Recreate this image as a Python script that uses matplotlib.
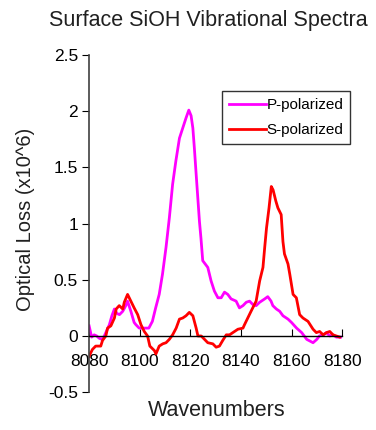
import matplotlib
matplotlib.use("Agg")
import matplotlib.pyplot as plt

plt.rcParams['font.family'] = ['Liberation Sans', 'DejaVu Sans']

title = "Surface SiOH Vibrational Spectra"
xlabel = "Wavenumbers"
ylabel = "Optical Loss (x10^6)"
xticks = [8080, 8100, 8120, 8140, 8160, 8180]
yticks = [-0.5, 0, 0.5, 1, 1.5, 2, 2.5]
ytick_labels = ["-0.5", "0", "0.5", "1", "1.5", "2", "2.5"]

p_x = [8080, 8081, 8082, 8083, 8084, 8085, 8086, 8087, 8088, 8089, 8090, 8091,
       8092, 8093.3, 8094.5, 8095.2, 8096.5, 8097.8, 8098.5, 8099.8, 8101, 8103.6,
       8105, 8106.3, 8107.7, 8109, 8110.4, 8111.7, 8113, 8114.3, 8115.7, 8117,
       8118.3, 8119.4, 8120.3, 8121, 8121.6, 8122.3, 8123.6, 8124.2, 8124.9, 8126.9,
       8128.2, 8129.5, 8130.9, 8132.2, 8133.5, 8134.8, 8136.1, 8138.1, 8139.4,
       8140.8, 8142.1, 8143.4, 8144.7, 8146, 8147.4, 8149.4, 8150.6, 8151.9,
       8152.6, 8154, 8155.3, 8156.6, 8158.6, 8160, 8162, 8164, 8166, 8168.5,
       8170, 8171, 8172.5, 8173.8, 8175.1, 8176.4, 8177.7, 8179.7]
p_y = [0.09, -0.01, 0.01, 0.0, -0.02, -0.03, 0.0, 0.05, 0.10, 0.18, 0.24, 0.20,
       0.19, 0.22, 0.27, 0.31, 0.22, 0.12, 0.10, 0.07, 0.07, 0.07,
       0.13, 0.25, 0.37, 0.55, 0.79, 1.05, 1.35, 1.56, 1.76, 1.85,
       1.94, 2.01, 1.96, 1.85, 1.67, 1.44, 1.02, 0.87, 0.67, 0.61,
       0.49, 0.40, 0.34, 0.34, 0.39, 0.37, 0.33, 0.31, 0.25,
       0.27, 0.30, 0.31, 0.28, 0.27, 0.30, 0.33, 0.35, 0.31,
       0.27, 0.24, 0.22, 0.18, 0.15, 0.12, 0.07, 0.03, -0.03, -0.06,
       -0.03, 0.0, 0.01, 0.03, 0.0, 0.01, -0.01, -0.01]

s_x = [8080, 8081.3, 8082.6, 8084.6, 8085.3, 8086.6, 8087.3, 8088.6, 8090, 8090.7,
       8091.9, 8093.3, 8093.9, 8095.2, 8096.5, 8097.8, 8099.2, 8100.5, 8101.8,
       8103.1, 8104, 8105.8, 8106.4, 8107.7, 8109.1, 8110.4, 8111.7, 8113, 8114.4,
       8115.7, 8117, 8118.3, 8119.6, 8121, 8122.3, 8123, 8124.3, 8126.9, 8128.9,
       8130.2, 8131.5, 8132.8, 8134.2, 8135.5, 8136.8, 8138.8, 8140.8, 8141.4,
       8142.7, 8144, 8146, 8147.4, 8148.7, 8149.4, 8150.1, 8151.1, 8152, 8152.7,
       8153.8, 8154.6, 8155.9, 8156.6, 8157.2, 8158.6, 8159.3, 8160.6, 8161.9,
       8163.2, 8164.5, 8166.5, 8168.5, 8169.8, 8171.1, 8172.5, 8173.8, 8175.1,
       8176.4, 8177.7, 8179]
s_y = [-0.18, -0.12, -0.09, -0.09, -0.04, 0.0, 0.07, 0.09, 0.16, 0.24,
       0.27, 0.24, 0.30, 0.37, 0.31, 0.25, 0.19, 0.10, 0.04,
       0.0, -0.09, -0.13, -0.16, -0.09, -0.07, -0.06, -0.03, 0.01, 0.07,
       0.15, 0.16, 0.18, 0.21, 0.18, 0.07, 0.0, 0.0, -0.06, -0.07,
       -0.10, -0.09, -0.04, 0.01, 0.01, 0.03, 0.06, 0.07, 0.10,
       0.16, 0.22, 0.31, 0.49, 0.61, 0.79, 0.96, 1.14, 1.33, 1.30,
       1.20, 1.14, 1.08, 0.84, 0.73, 0.64, 0.55, 0.37, 0.34,
       0.19, 0.16, 0.13, 0.06, 0.03, 0.04, 0.01, 0.03, 0.04,
       0.01, 0.0, -0.01]

fig = plt.figure(figsize=(3.76, 4.30), dpi=100)
ax = fig.add_axes([0.237, 0.088, 0.673, 0.784])

ax.plot(p_x, p_y, color='#ff00ff', lw=2.0, label='P-polarized')
ax.plot(s_x, s_y, color='#ff0000', lw=2.0, label='S-polarized')

ax.set_xlim(8080, 8180)
ax.set_ylim(-0.5, 2.5)

ax.spines['top'].set_visible(False)
ax.spines['right'].set_visible(False)
ax.spines['bottom'].set_position(('data', 0))
ax.spines['bottom'].set_color('black')
ax.spines['left'].set_color('#404040')
ax.spines['left'].set_linewidth(1.2)
ax.spines['bottom'].set_linewidth(1.0)

ax.set_xticks(xticks)
ax.set_xticklabels([str(t) for t in xticks])
ax.set_yticks(yticks)
ax.set_yticklabels(ytick_labels)
ax.tick_params(axis='x', direction='in', length=5, pad=13, labelsize=12.5, colors='black')
ax.tick_params(axis='y', direction='out', length=5, pad=3, labelsize=12.5)

fig.text(0.555, 0.952, title, ha='center', va='center', fontsize=15.5, color='#202020')
fig.text(0.577, 0.045, xlabel, ha='center', va='center', fontsize=15.5, color='#202020')
fig.text(0.068, 0.49, ylabel, ha='center', va='center', rotation=90, fontsize=14.5, color='#202020')

leg = ax.legend(loc='upper left', bbox_to_anchor=(0.526, 0.893), fontsize=11,
                frameon=True, fancybox=False, edgecolor='black', handlelength=2.4,
                handletextpad=0.05, borderpad=0.45, labelspacing=0.75, borderaxespad=0)
leg.get_frame().set_linewidth(1.0)

fig.savefig('out.png', dpi=100)
